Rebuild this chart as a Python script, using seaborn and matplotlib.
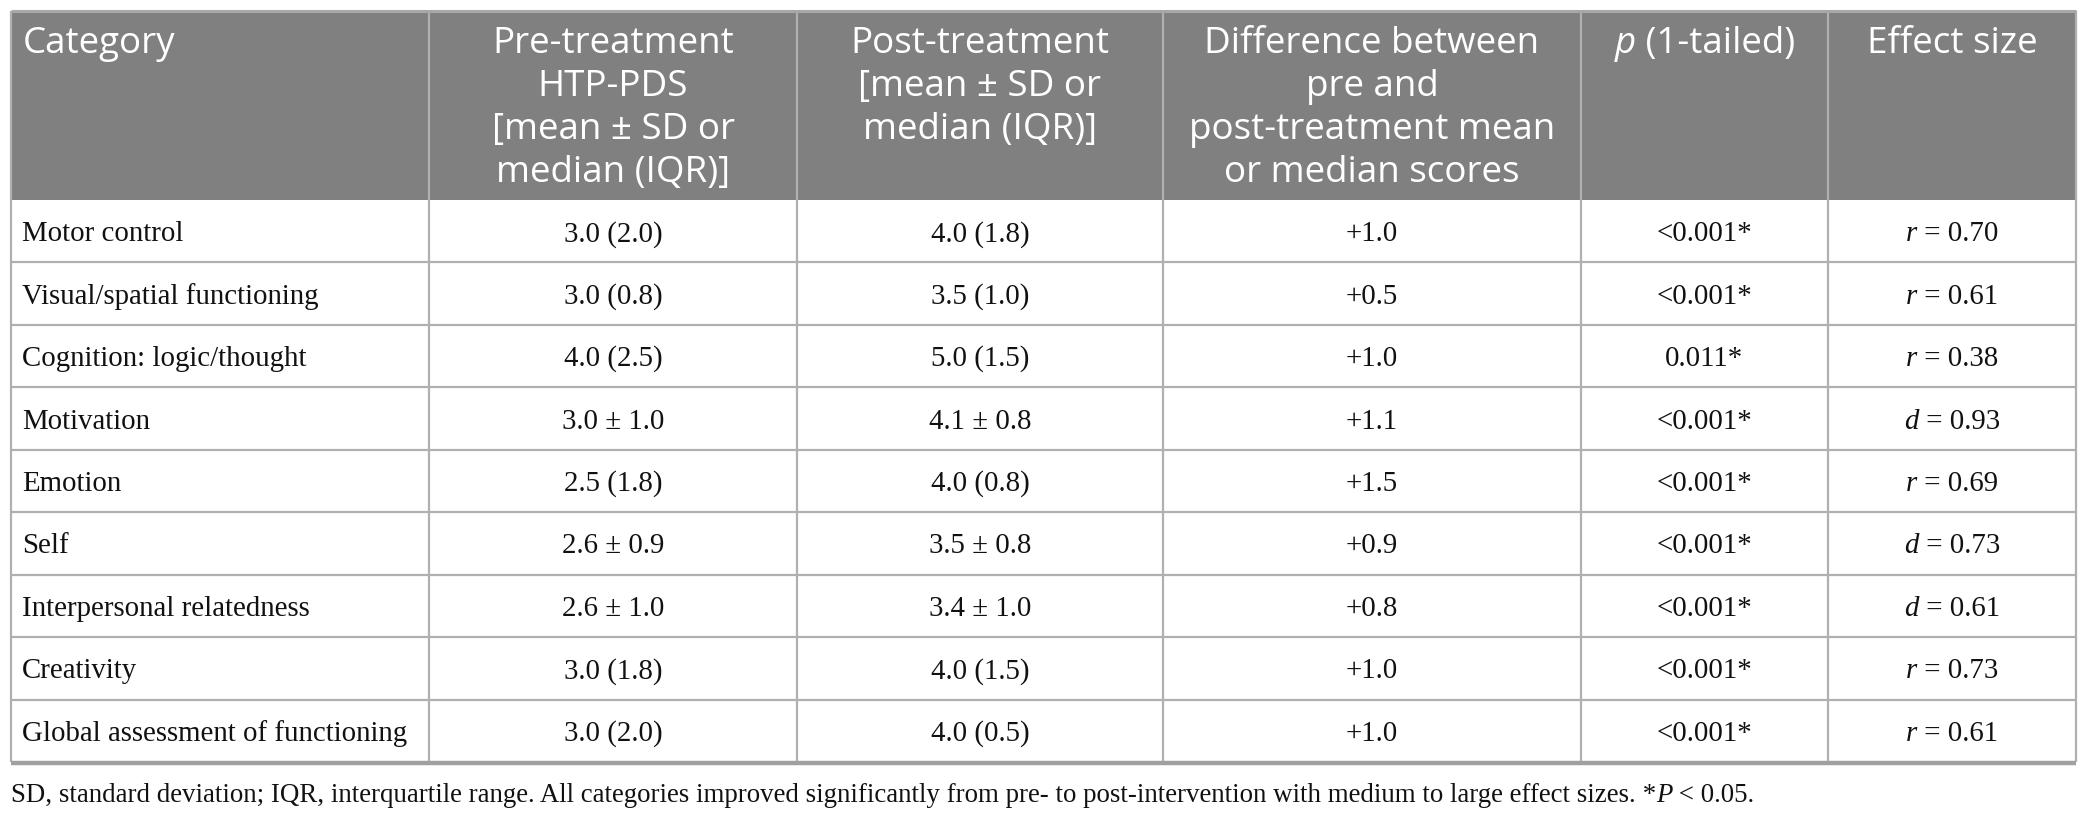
import matplotlib
matplotlib.use("Agg")
import matplotlib.pyplot as plt
from matplotlib.patches import Rectangle
import seaborn as sns

# table content
categories = ["Motor control", "Visual/spatial functioning", "Cognition: logic/thought",
              "Motivation", "Emotion", "Self", "Interpersonal relatedness",
              "Creativity", "Global assessment of functioning"]
pre_scores = ["3.0 (2.0)", "3.0 (0.8)", "4.0 (2.5)", "3.0 \u00b1 1.0", "2.5 (1.8)",
              "2.6 \u00b1 0.9", "2.6 \u00b1 1.0", "3.0 (1.8)", "3.0 (2.0)"]
post_scores = ["4.0 (1.8)", "3.5 (1.0)", "5.0 (1.5)", "4.1 \u00b1 0.8", "4.0 (0.8)",
               "3.5 \u00b1 0.8", "3.4 \u00b1 1.0", "4.0 (1.5)", "4.0 (0.5)"]
differences = ["+1.0", "+0.5", "+1.0", "+1.1", "+1.5", "+0.9", "+0.8", "+1.0", "+1.0"]
p_values = ["<0.001*", "<0.001*", "0.011*", "<0.001*", "<0.001*",
            "<0.001*", "<0.001*", "<0.001*", "<0.001*"]
effect_kind = ["r", "r", "r", "d", "r", "d", "d", "r", "r"]
effect_vals = [0.70, 0.61, 0.38, 0.93, 0.69, 0.73, 0.61, 0.73, 0.61]

headers = [
    ["Category"],
    ["Pre-treatment", "HTP-PDS", "[mean \u00b1 SD or", "median (IQR)]"],
    ["Post-treatment", "[mean \u00b1 SD or", "median (IQR)]"],
    ["Difference between", "pre and", "post-treatment mean", "or median scores"],
    None,  # p (1-tailed), drawn with italic p
    ["Effect size"],
]
footnote = "SD, standard deviation; IQR, interquartile range. All categories improved significantly from pre- to post-intervention with medium to large effect sizes."

# layout (pixels)
W, H = 2089, 819
col_edges = [11, 429, 797, 1163, 1581, 1828, 2076]
top, head_bottom, bottom = 11, 200, 762
row_h = (bottom - head_bottom) / len(categories)

sns.set_theme(style="white")
plt.rcParams["font.family"] = ["Liberation Serif", "DejaVu Serif"]

HEAD = dict(family=["Open Sans", "DejaVu Sans"], size=26.5, color="white")
BODY = dict(family=["Liberation Serif", "DejaVu Serif"], size=20.8, color="#111111")
FOOT = dict(BODY, size=19.4)

fig = plt.figure(figsize=(W / 100, H / 100), dpi=100)
ax = fig.add_axes([0, 0, 1, 1])
ax.set_xlim(0, W)
ax.set_ylim(H, 0)
ax.axis("off")
renderer = fig.canvas.get_renderer()


def put_runs(x, y, runs, align="center"):
    texts = [ax.text(0, y, s, va="baseline", ha="left", **kw) for s, kw in runs]
    widths = [t.get_window_extent(renderer).width for t in texts]
    start = x - sum(widths) / 2 if align == "center" else x
    for t, w in zip(texts, widths):
        t.set_x(start)
        start += w


# header background
ax.add_patch(Rectangle((col_edges[0], top), col_edges[-1] - col_edges[0],
                       head_bottom - top, facecolor="#808080", edgecolor="none"))

# grid
line_c = "#b0b0b0"
for i in range(1, len(categories)):
    ax.hlines(head_bottom + i * row_h, col_edges[0], col_edges[-1], color=line_c, lw=1.6)
ax.vlines(col_edges, top, bottom, color=line_c, lw=1.6)
ax.hlines(top, col_edges[0], col_edges[-1], color="#a8a8a8", lw=2.2)
ax.hlines(bottom + 1, col_edges[0], col_edges[-1], color="#a0a0a0", lw=3.2)

# header text
line_gap = 43
base0 = 53
for c, lines in enumerate(headers):
    if lines is None:
        continue
    for k, s in enumerate(lines):
        y = base0 + k * line_gap
        if c == 0:
            ax.text(col_edges[0] + 12, y, s, va="baseline", ha="left", **HEAD)
        else:
            ax.text((col_edges[c] + col_edges[c + 1]) / 2, y, s,
                    va="baseline", ha="center", **HEAD)
put_runs((col_edges[4] + col_edges[5]) / 2, base0,
         [("p", dict(HEAD, style="italic")), (" (1-tailed)", HEAD)])

# body text
centers = [(col_edges[c] + col_edges[c + 1]) / 2 for c in range(len(col_edges) - 1)]
for i, cat in enumerate(categories):
    y = head_bottom + (i + 0.5) * row_h + 10
    ax.text(col_edges[0] + 11, y, cat, va="baseline", ha="left", **BODY)
    for c, col in zip(range(1, 5), [pre_scores, post_scores, differences, p_values]):
        ax.text(centers[c], y, col[i], va="baseline", ha="center", **BODY)
    put_runs(centers[5], y, [(effect_kind[i], dict(BODY, style="italic")),
                             (f" = {effect_vals[i]:.2f}", BODY)])

# footnote
put_runs(col_edges[0], 802,
         [(footnote, FOOT), (" *", FOOT), ("P", dict(FOOT, style="italic")),
          (" < 0.05.", FOOT)], align="left")

fig.savefig("out.png", dpi=100, facecolor="white")
